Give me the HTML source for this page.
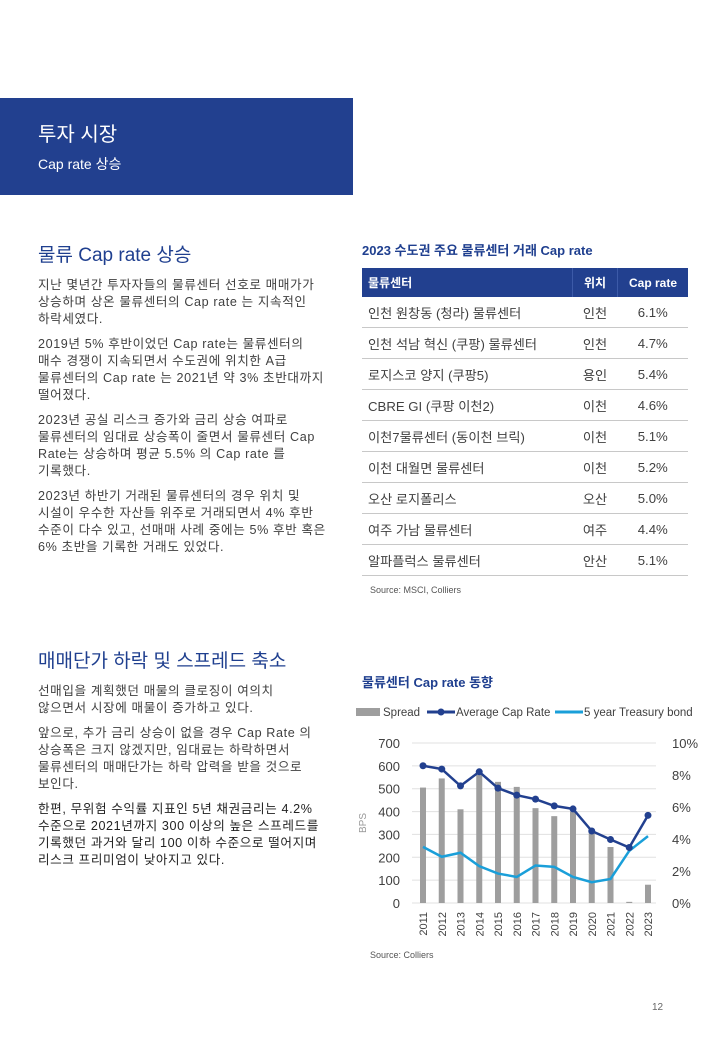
<!DOCTYPE html>
<html><head><meta charset="utf-8">
<style>
body{margin:0;width:720px;height:1040px;background:#fff;position:relative;font-family:"Liberation Sans","Noto Sans CJK KR",sans-serif;overflow:hidden}
.abs{position:absolute}
.p{color:#404040;font-size:12.6px;line-height:17px;margin:0 0 8px 0;white-space:nowrap;letter-spacing:0.6px}
h2{font-weight:normal;color:#1f3f8f;font-size:19px;margin:0}
.ttl{color:#1f3f8f;font-weight:bold;font-size:13px}
table{border-collapse:collapse;font-size:13.2px;color:#404040}
td{height:30px;border-bottom:1px solid #c8c8c8;padding:0}
th{background:#22408f;color:#fff;height:29px;font-size:12px;padding:0}
</style></head><body>
<div class="abs" style="left:0;top:98px;width:353px;height:97px;background:#22408f">
<div class="abs" style="left:38px;top:20px;color:#fff;font-size:20px">투자 시장</div>
<div class="abs" style="left:38px;top:56px;color:#fff;font-size:14px">Cap rate 상승</div>
</div>

<div class="abs" style="left:38px;top:240px;width:310px">
<h2 style="margin-bottom:10px">물류 Cap rate 상승</h2>
<p class="p">지난 몇년간 투자자들의 물류센터 선호로 매매가가<br>상승하며 상온 물류센터의 Cap rate 는 지속적인<br>하락세였다.</p>
<p class="p">2019년 5% 후반이었던 Cap rate는 물류센터의<br>매수 경쟁이 지속되면서 수도권에 위치한 A급<br>물류센터의 Cap rate 는 2021년 약 3% 초반대까지<br>떨어졌다.</p>
<p class="p">2023년 공실 리스크 증가와 금리 상승 여파로<br>물류센터의 임대료 상승폭이 줄면서 물류센터 Cap<br>Rate는 상승하며 평균 5.5% 의 Cap rate 를<br>기록했다.</p>
<p class="p">2023년 하반기 거래된 물류센터의 경우 위치 및<br>시설이 우수한 자산들 위주로 거래되면서 4% 후반<br>수준이 다수 있고, 선매매 사례 중에는 5% 후반 혹은<br>6% 초반을 기록한 거래도 있었다.</p>
</div>

<div class="abs" style="left:38px;top:646px;width:310px">
<h2 style="margin-bottom:10px">매매단가 하락 및 스프레드 축소</h2>
<p class="p">선매입을 계획했던 매물의 클로징이 여의치<br>않으면서 시장에 매물이 증가하고 있다.</p>
<p class="p">앞으로, 추가 금리 상승이 없을 경우 Cap Rate 의<br>상승폭은 크지 않겠지만, 임대료는 하락하면서<br>물류센터의 매매단가는 하락 압력을 받을 것으로<br>보인다.</p>
<p class="p" style="color:#222">한편, 무위험 수익률 지표인 5년 채권금리는 4.2%<br>수준으로 2021년까지 300 이상의 높은 스프레드를<br>기록했던 과거와 달리 100 이하 수준으로 떨어지며<br>리스크 프리미엄이 낮아지고 있다.</p>
</div>

<div class="abs ttl" style="left:362px;top:240px">2023 수도권 주요 물류센터 거래 Cap rate</div>
<table class="abs" style="left:362px;top:268px;width:326px">
<tr><th style="text-align:left;padding-left:6px;border-right:1px solid #3c5aa8">물류센터</th><th style="width:44px;border-right:1px solid #3c5aa8">위치</th><th style="width:70px">Cap rate</th></tr>
<tr><td style="padding-left:6px">인천 원창동 (청라) 물류센터</td><td style="text-align:center">인천</td><td style="text-align:center">6.1%</td></tr>
<tr><td style="padding-left:6px">인천 석남 혁신 (쿠팡) 물류센터</td><td style="text-align:center">인천</td><td style="text-align:center">4.7%</td></tr>
<tr><td style="padding-left:6px">로지스코 양지 (쿠팡5)</td><td style="text-align:center">용인</td><td style="text-align:center">5.4%</td></tr>
<tr><td style="padding-left:6px">CBRE GI (쿠팡 이천2)</td><td style="text-align:center">이천</td><td style="text-align:center">4.6%</td></tr>
<tr><td style="padding-left:6px">이천7물류센터 (동이천 브릭)</td><td style="text-align:center">이천</td><td style="text-align:center">5.1%</td></tr>
<tr><td style="padding-left:6px">이천 대월면 물류센터</td><td style="text-align:center">이천</td><td style="text-align:center">5.2%</td></tr>
<tr><td style="padding-left:6px">오산 로지폴리스</td><td style="text-align:center">오산</td><td style="text-align:center">5.0%</td></tr>
<tr><td style="padding-left:6px">여주 가남 물류센터</td><td style="text-align:center">여주</td><td style="text-align:center">4.4%</td></tr>
<tr><td style="padding-left:6px">알파플럭스 물류센터</td><td style="text-align:center">안산</td><td style="text-align:center">5.1%</td></tr>
</table>
<div class="abs" style="left:370px;top:585px;font-size:9px;color:#555">Source: MSCI, Colliers</div>

<div class="abs ttl" style="left:362px;top:672px">물류센터 Cap rate 동향</div>
<svg class="abs" style="left:0;top:0" width="720" height="1040" id="chart"></svg>
<div class="abs" style="left:370px;top:950px;font-size:9px;color:#555">Source: Colliers</div>
<div class="abs" style="left:652px;top:1002px;font-size:10px;color:#666">12</div>

<script>
const years=["2011","2012","2013","2014","2015","2016","2017","2018","2019","2020","2021","2022","2023"];
const spread=[505,545,410,560,530,508,415,380,400,310,245,5,80];
const capRate=[8.58,8.37,7.32,8.2,7.18,6.74,6.49,6.07,5.88,4.5,3.97,3.47,5.48];
const treasury=[3.51,2.89,3.14,2.3,1.84,1.63,2.34,2.26,1.63,1.3,1.5,3.26,4.18];
const leftTicks=[0,100,200,300,400,500,600,700];
const rightTicks=[0,2,4,6,8,10];
const svg=document.getElementById('chart');
const NS='http://www.w3.org/2000/svg';
const x0=423,dx=18.75,yB=903,yT=743;
const xs=i=>x0+i*dx;
const yl=v=>yB-(v/700)*(yB-yT);
const yr=v=>yB-(v/10)*(yB-yT);
function mk(t,a){const e=document.createElementNS(NS,t);for(const k in a)e.setAttribute(k,a[k]);svg.appendChild(e);return e;}
leftTicks.forEach(v=>{
 const g=mk('line',{x1:412,x2:656,y1:yl(v),y2:yl(v),stroke:'#e0e0e0','stroke-width':1});
 
 
 const t=mk('text',{x:400,y:yl(v)+5,'text-anchor':'end','font-size':13,fill:'#404040','font-family':'Liberation Sans'});
 t.textContent=v;
 
 
});
rightTicks.forEach(v=>{
 const t=mk('text',{x:672,y:yr(v)+5,'font-size':13,fill:'#404040','font-family':'Liberation Sans'});
 t.textContent=v+'%';
 
 
});
const yt=mk('text',{x:0,y:0,'font-size':10,fill:'#999','text-anchor':'middle',transform:'translate(366,823) rotate(-90)','font-family':'Liberation Sans'});
yt.textContent='BPS';


years.forEach((y,i)=>{
 const b=mk('rect',{x:xs(i)-3,y:yl(spread[i]),width:6,height:yB-yl(spread[i]),fill:'#9e9e9e'});
 
 
 const t=mk('text',{x:0,y:0,'font-size':11,fill:'#404040','text-anchor':'end',transform:`translate(${xs(i)+4},912) rotate(-90)`,'font-family':'Liberation Sans'});
 t.textContent=y;
 
 
});
const tl=mk('polyline',{points:treasury.map((v,i)=>xs(i)+','+yr(v)).join(' '),fill:'none',stroke:'#1a9fd9','stroke-width':2.5});


const cl=mk('polyline',{points:capRate.map((v,i)=>xs(i)+','+yr(v)).join(' '),fill:'none',stroke:'#22408f','stroke-width':2.5});


capRate.forEach((v,i)=>{
 const c=mk('circle',{cx:xs(i),cy:yr(v),r:3.5,fill:'#22408f'});
 
 
});
const l1=mk('rect',{x:356,y:708,width:24,height:8,fill:'#9e9e9e'});


const l2=mk('line',{x1:427,x2:455,y1:712,y2:712,stroke:'#22408f','stroke-width':3});


const l2c=mk('circle',{cx:441,cy:712,r:3.5,fill:'#22408f'});


const l3=mk('line',{x1:555,x2:583,y1:712,y2:712,stroke:'#1a9fd9','stroke-width':3});


[['Spread',383],['Average Cap Rate',456],['5 year Treasury bond',584]].forEach(([s,x])=>{
 const t=mk('text',{x:x,y:716,'font-size':11.5,fill:'#404040','font-family':'Liberation Sans'});
 t.textContent=s;
 
 
});
</script>
</body></html>
